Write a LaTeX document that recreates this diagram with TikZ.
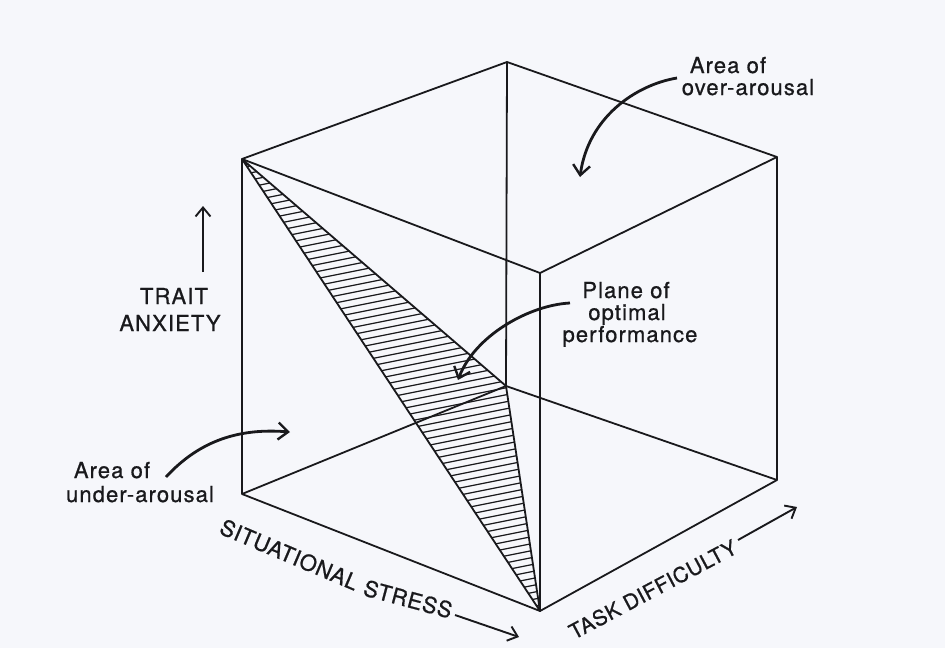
\documentclass[tikz,border=0pt]{standalone}
\usepackage{fontspec}
\setmainfont{TeX Gyre Heros}
\newfontfamily\labfont[LetterSpace=5,FakeBold=0.8]{TeX Gyre Heros}
\newfontfamily\axfont[LetterSpace=3,FakeBold=0.8]{TeX Gyre Heros}
\usetikzlibrary{arrows.meta}
\definecolor{paper}{RGB}{246,247,251}
\definecolor{ink}{RGB}{25,25,28}
\tikzset{
  edge/.style={draw=ink, line width=1.8pt, line join=round},
  hatch/.style={draw=ink, line width=1.2pt},
  axisarrow/.style={draw=ink, line width=1.9pt, -{Straight Barb[length=9pt,width=15pt,line width=1.9pt]}},
  curvearrow/.style={draw=ink, line width=2.8pt, -{Straight Barb[length=10pt,width=17pt,line width=2.4pt]}},
  lab/.style={text=ink, inner sep=0pt, anchor=base, font=\labfont\fontsize{22}{26}\selectfont},
  axlab/.style={text=ink, inner sep=0pt, anchor=base west, font=\axfont\fontsize{22}{26}\selectfont},
}
\begin{document}
\begin{tikzpicture}[x=1pt,y=-1pt]
\fill[paper] (0,0) rectangle (945,648);
\useasboundingbox (0,0) rectangle (945,648);
% cube vertices
\coordinate (TL) at (242,159);
\coordinate (BT) at (507,62);
\coordinate (RT) at (777,157);
\coordinate (FT) at (540,273);
\coordinate (BL) at (242,494);
\coordinate (FB) at (540,611);
\coordinate (RB) at (777,480);
\coordinate (BB) at (506,386);
% hatched plane
\begin{scope}
\clip (TL) -- (BB) -- (FB) -- cycle;
\foreach \k in {0,...,80}{
  \draw[hatch] (230,{156+7*\k}) -- (560,{90+7*\k});
}
\end{scope}
\draw[edge] (TL) -- (BB) -- (FB) -- cycle;
% cube edges
\draw[edge] (TL) -- (BT) -- (RT) -- (FT) -- cycle;
\draw[edge] (TL) -- (BL) -- (FB) -- (RB) -- (RT);
\draw[edge] (FT) -- (FB);
\draw[edge] (BT) -- (BB);
\draw[edge] (BL) -- (BB) -- (RB);
% axis labels
\node[lab] (trait) at (174,304) {TRAIT};
\node[lab] (anx) at (170,331) {ANXIETY};
\coordinate (ta1) at (203,272);
\coordinate (ta2) at (203,206);
\draw[axisarrow] (ta1) -- (ta2);
\node[axlab, rotate=-23] (sit) at (218,533) {SITUATIONAL};
\node[axlab, rotate=-15] (str) at (362,595) {STRESS};
\coordinate (sa1) at (455,615);
\coordinate (sa2) at (519,637);
\draw[axisarrow] (sa1) -- (sa2);
\node[axlab, rotate=28, font=\axfont\fontsize{21}{24}\selectfont] (task) at (574,640) {TASK DIFFICULTY};
\coordinate (da1) at (738,540);
\coordinate (da2) at (797,507);
\draw[axisarrow] (da1) -- (da2);
% area labels
\node[lab] (ua1) at (112,478) {Area of};
\node[lab] (ua2) at (140,502) {under-arousal};
\coordinate (u1) at (166,477);
\coordinate (u2) at (290,432);
\draw[curvearrow] (u1) .. controls (200,440) and (240,428) .. (u2);
\node[lab] (oa1) at (728,73) {Area of};
\node[lab] (oa2) at (748,95) {over-arousal};
\coordinate (o1) at (677,78);
\coordinate (o2) at (580,177);
\draw[curvearrow] (o1) .. controls (635,85) and (588,118) .. (o2);
\node[lab] (pl1) at (626,298) {Plane of};
\node[lab] (pl2) at (627,320) {optimal};
\node[lab] (pl3) at (630,342) {performance};
\coordinate (p1) at (570,303);
\coordinate (p2) at (458,380);
\draw[curvearrow] (p1) .. controls (530,305) and (475,335) .. (p2);
\end{tikzpicture}
\end{document}
